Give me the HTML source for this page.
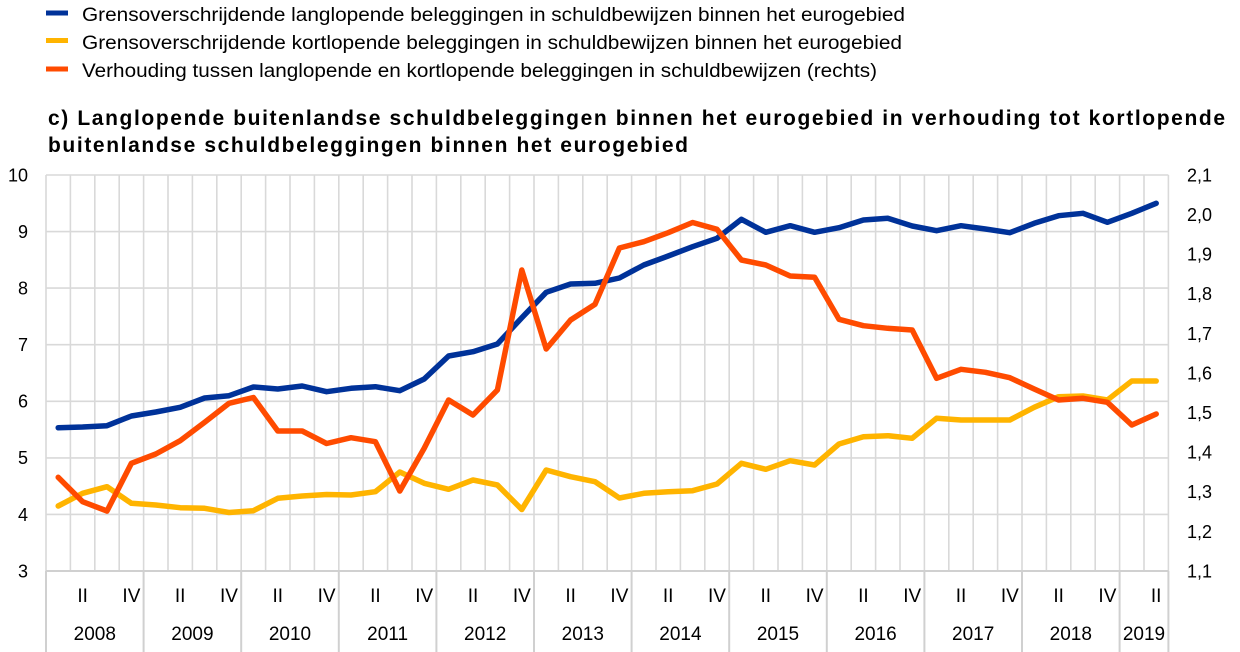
<!DOCTYPE html>
<html><head><meta charset="utf-8"><style>
html,body{margin:0;padding:0;background:#fff;}
svg{display:block;}
text{font-family:"Liberation Sans",Arial,sans-serif;fill:#000;}
</style></head><body>
<svg width="1240" height="652" viewBox="0 0 1240 652" xmlns="http://www.w3.org/2000/svg">
<!-- legend -->
<rect x="46" y="10.5" width="22" height="5" fill="#003299"/>
<rect x="46" y="38" width="22" height="5" fill="#FFB400"/>
<rect x="46" y="66.5" width="22" height="5" fill="#FF4B00"/>
<text x="82" y="21" font-size="19" textLength="823" lengthAdjust="spacingAndGlyphs">Grensoverschrijdende langlopende beleggingen in schuldbewijzen binnen het eurogebied</text>
<text x="82" y="49" font-size="19" textLength="820" lengthAdjust="spacingAndGlyphs">Grensoverschrijdende kortlopende beleggingen in schuldbewijzen binnen het eurogebied</text>
<text x="82" y="77" font-size="19" textLength="795" lengthAdjust="spacingAndGlyphs">Verhouding tussen langlopende en kortlopende beleggingen in schuldbewijzen (rechts)</text>
<!-- title -->
<text x="48" y="125" font-size="21" font-weight="bold" textLength="1177" lengthAdjust="spacing">c) Langlopende buitenlandse schuldbeleggingen binnen het eurogebied in verhouding tot kortlopende</text>
<text x="48" y="152" font-size="21" font-weight="bold" textLength="640" lengthAdjust="spacing">buitenlandse schuldbeleggingen binnen het eurogebied</text>
<!-- grid -->
<g stroke="#d9d9d9" stroke-width="1.6" fill="none">
<path d="M46 175V571M70.4 175V571M94.8 175V571M119.2 175V571M143.6 175V571M168 175V571M192.4 175V571M216.8 175V571M241.2 175V571M265.6 175V571M290 175V571M314.4 175V571M338.8 175V571M363.2 175V571M387.6 175V571M412 175V571M436.4 175V571M460.8 175V571M485.2 175V571M509.6 175V571M534 175V571M558.4 175V571M582.8 175V571M607.2 175V571M631.6 175V571M656 175V571M680.4 175V571M704.8 175V571M729.2 175V571M753.6 175V571M778 175V571M802.4 175V571M826.8 175V571M851.2 175V571M875.6 175V571M900 175V571M924.4 175V571M948.8 175V571M973.2 175V571M997.6 175V571M1022 175V571M1046.4 175V571M1070.8 175V571M1095.2 175V571M1119.6 175V571M1144 175V571M1168.4 175V571"/>
<path d="M46 175H1168.4M46 231.6H1168.4M46 288.1H1168.4M46 344.7H1168.4M46 401.3H1168.4M46 457.9H1168.4M46 514.4H1168.4"/>
</g>
<g stroke="#d0d0d0" stroke-width="2" fill="none">
<path d="M46 571H1168.4"/>
<path d="M46 571V652M143.6 571V652M241.2 571V652M338.8 571V652M436.4 571V652M534 571V652M631.6 571V652M729.2 571V652M826.8 571V652M924.4 571V652M1022 571V652M1119.6 571V652M1168.4 571V652"/>
</g>
<!-- left axis -->
<g font-size="18" text-anchor="end">
<text x="28" y="181.5">10</text>
<text x="28" y="238">9</text>
<text x="28" y="294.5">8</text>
<text x="28" y="351">7</text>
<text x="28" y="407.5">6</text>
<text x="28" y="464">5</text>
<text x="28" y="521">4</text>
<text x="28" y="577.5">3</text>
</g>
<!-- right axis -->
<g font-size="18">
<text x="1187" y="181.5">2,1</text>
<text x="1187" y="221">2,0</text>
<text x="1187" y="260.5">1,9</text>
<text x="1187" y="300">1,8</text>
<text x="1187" y="340">1,7</text>
<text x="1187" y="379.5">1,6</text>
<text x="1187" y="419">1,5</text>
<text x="1187" y="458.5">1,4</text>
<text x="1187" y="498">1,3</text>
<text x="1187" y="538">1,2</text>
<text x="1187" y="577.5">1,1</text>
</g>
<!-- quarter labels -->
<g font-size="19" text-anchor="middle">
<text x="82.6" y="602">II</text><text x="131.4" y="602">IV</text>
<text x="180.2" y="602">II</text><text x="229" y="602">IV</text>
<text x="277.8" y="602">II</text><text x="326.6" y="602">IV</text>
<text x="375.4" y="602">II</text><text x="424.2" y="602">IV</text>
<text x="473" y="602">II</text><text x="521.8" y="602">IV</text>
<text x="570.6" y="602">II</text><text x="619.4" y="602">IV</text>
<text x="668.2" y="602">II</text><text x="717" y="602">IV</text>
<text x="765.8" y="602">II</text><text x="814.6" y="602">IV</text>
<text x="863.4" y="602">II</text><text x="912.2" y="602">IV</text>
<text x="961" y="602">II</text><text x="1009.8" y="602">IV</text>
<text x="1058.6" y="602">II</text><text x="1107.4" y="602">IV</text>
<text x="1156.2" y="602">II</text>
<text x="94.8" y="640">2008</text>
<text x="192.4" y="640">2009</text>
<text x="290" y="640">2010</text>
<text x="387.6" y="640">2011</text>
<text x="485.2" y="640">2012</text>
<text x="582.8" y="640">2013</text>
<text x="680.4" y="640">2014</text>
<text x="778" y="640">2015</text>
<text x="875.6" y="640">2016</text>
<text x="973.2" y="640">2017</text>
<text x="1070.8" y="640">2018</text>
<text x="1144" y="640">2019</text>
</g>
<!-- series -->
<g fill="none" stroke-width="5.5" stroke-linejoin="round" stroke-linecap="round">
<polyline stroke="#003299" points="58.2,427.7 82.6,427 107,425.7 131.4,416 155.8,412 180.2,407.3 204.6,398 229,395.7 253.4,387 277.8,389 302.2,386 326.6,391.7 351,388.3 375.4,386.7 399.8,390.7 424.2,379 448.6,356 473,351.7 497.4,344 521.8,317.7 546.2,292.3 570.6,284 595,283.3 619.4,278 643.8,265 668.2,256 692.6,246.7 717,238.3 741.4,219.3 765.8,232.3 790.2,225.7 814.6,232.3 839,227.7 863.4,220 887.8,218.3 912.2,226 936.6,230.7 961,225.7 985.4,229 1009.8,232.7 1034.2,223.3 1058.6,215.7 1083,213.3 1107.4,222.3 1131.8,213.3 1156.2,203.3"/>
<polyline stroke="#FFB400" points="58.2,506 82.6,493.3 107,486.7 131.4,503.3 155.8,505 180.2,507.7 204.6,508.3 229,512.5 253.4,510.7 277.8,498.3 302.2,496 326.6,494.5 351,495 375.4,491.7 399.8,472 424.2,483.3 448.6,489.3 473,480 497.4,485 521.8,509.5 546.2,470 570.6,476.7 595,481.7 619.4,498 643.8,493.3 668.2,491.7 692.6,490.7 717,484 741.4,463.3 765.8,469.3 790.2,460.7 814.6,465 839,444 863.4,436.7 887.8,435.7 912.2,438.3 936.6,418.3 961,420 985.4,420 1009.8,420 1034.2,407.3 1058.6,396.7 1083,396 1107.4,400 1131.8,381 1156.2,381"/>
<polyline stroke="#FF4B00" points="58.2,477.3 82.6,501.7 107,511 131.4,463.3 155.8,454 180.2,440.7 204.6,422.3 229,403.3 253.4,397.5 277.8,431 302.2,431 326.6,443.5 351,437.7 375.4,441.7 399.8,491 424.2,448.3 448.6,400 473,415 497.4,390 521.8,270 546.2,349 570.6,320 595,304.3 619.4,248 643.8,241.7 668.2,232.7 692.6,222.5 717,229.3 741.4,260 765.8,265 790.2,276 814.6,277.3 839,319.3 863.4,325.7 887.8,328.3 912.2,330 936.6,378.3 961,369.3 985.4,372.3 1009.8,377.7 1034.2,389 1058.6,400 1083,398.3 1107.4,402.3 1131.8,425 1156.2,414"/>
</g>
</svg>
</body></html>
